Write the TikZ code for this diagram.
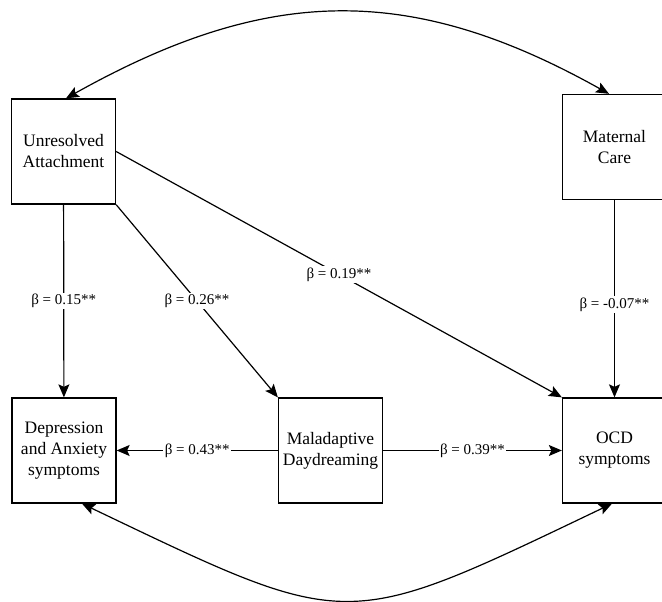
\documentclass[tikz,border=0pt]{standalone}
\usepackage{fontspec}
\setmainfont{Liberation Serif}
\usetikzlibrary{arrows.meta}

\begin{document}
\begin{tikzpicture}[x=1pt, y=1pt, >={Stealth[length=13pt, width=11pt, inset=2.5pt]},
        box/.style={draw, line width=1.3pt, minimum width=104pt, minimum height=105pt, inner sep=0pt, align=center, font=\fontsize{17.5}{21}\selectfont},
        path/.style={line width=1.2pt, ->},
        cov/.style={line width=1.2pt, <->},
        beta/.style={fill=white, inner sep=1.5pt, font=\fontsize{15}{18}\selectfont}]
        \useasboundingbox (0, 0) rectangle (662, 602);
        \node[box] (ua) at (63.5, 450.5) {Unresolved\\Attachment};
        \node[box] (mc) at (614.5, 455) {Maternal\\Care};
        \node[box] (da) at (64, 151.5) {Depression\\and Anxiety\\symptoms};
        \node[box] (md) at (330.5, 151.5) {Maladaptive\\Daydreaming};
        \node[box] (ocd) at (614.5, 151.5) {OCD\\symptoms};
        % paths
        \draw[path] (ua) -- (da) node[midway, beta]{β = 0.15**};
        \draw[path] (ua.south east) -- (md.north west) node[midway, beta]{β = 0.26**};
        \draw[path] (ua.east) -- (ocd.north west) node[midway, beta]{β = 0.19**};
        \draw[path] (mc) -- (ocd) node[pos=0.53, beta]{β = -0.07**};
        \draw[path] (md) -- (da) node[midway, beta]{β = 0.43**};
        \draw[path] (md) -- (ocd) node[midway, beta]{β = 0.39**};
        % covariances
        \draw[cov] ([xshift=2.5pt]ua.north) .. controls +(200, 112) and +(-200, 112) .. ([xshift=-5.5pt]mc.north);
        \draw[cov] ([xshift=18pt]da.south) .. controls +(270, -129) and +(-270, -129) .. ([xshift=-2.5pt]ocd.south);
    \end{tikzpicture}
\end{document}
